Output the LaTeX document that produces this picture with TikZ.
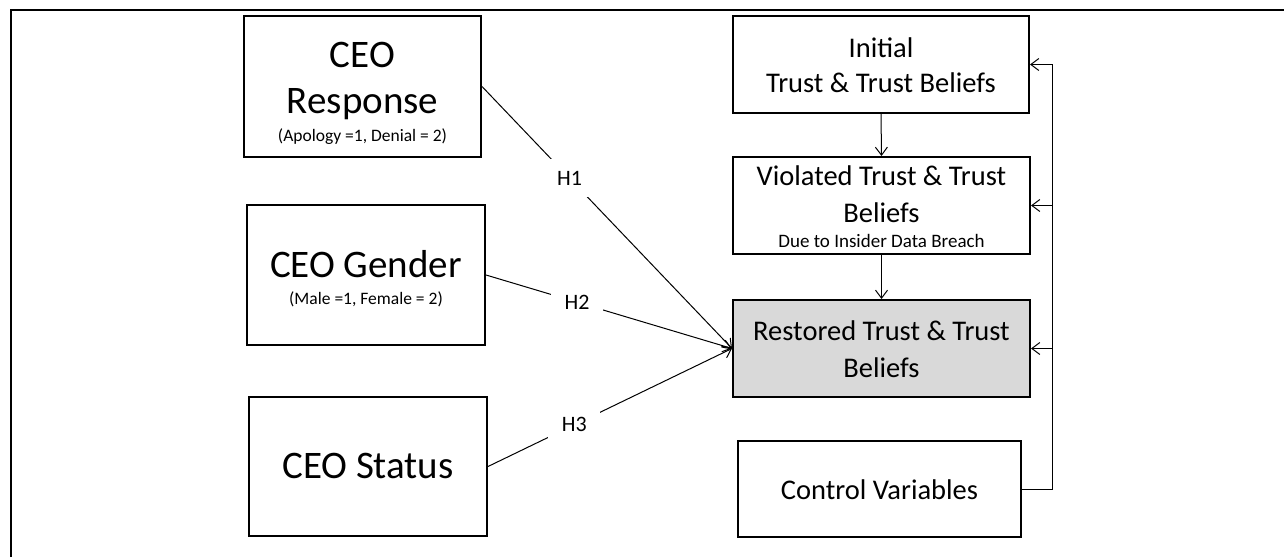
\documentclass[tikz,border=0pt]{standalone}
\usepackage{fontspec}
\setmainfont{Carlito}
\usetikzlibrary{arrows.meta}

\tikzset{
  box/.style={draw, line width=2pt, inner sep=0pt, fill=white},
  bigtxt/.style={font=\fontsize{39}{46}\selectfont, inner sep=0pt, anchor=base},
  midtxt/.style={font=\fontsize{28.5}{34}\selectfont, inner sep=0pt, anchor=base},
  smalltxt/.style={font=\fontsize{17.5}{21}\selectfont, inner sep=0pt, anchor=base},
  notetxt/.style={font=\fontsize{19}{23}\selectfont, inner sep=0pt, anchor=base},
  conn/.style={line width=1pt, -{Straight Barb[length=8pt,width=12pt,line width=1pt]}},
  hlab/.style={fill=white, inner sep=0pt, minimum width=52pt, minimum height=38pt,
               font=\fontsize{22}{26}\selectfont},
  frameline/.style={line width=2.5pt}
}

\begin{document}
\begin{tikzpicture}[x=1pt, y=-1pt]
  \useasboundingbox (0,0) rectangle (1284,557);

  % outer frame (top and left edges)
  \draw[frameline] (11,557) -- (11,10) -- (1284,10);

  % independent variables
  \node[box, minimum width=237pt, minimum height=141pt] (resp) at (362.5,86.5) {};
  \node[bigtxt] (respA) at (362.5,67) {CEO};
  \node[bigtxt] (respB) at (362.5,113) {Response};
  \node[smalltxt] (respC) at (362.5,141.5) {(Apology =1, Denial = 2)};

  \node[box, minimum width=238pt, minimum height=140pt] (gend) at (366,275) {};
  \node[bigtxt] (gendA) at (366,277.5) {CEO Gender};
  \node[smalltxt] (gendB) at (366,304) {(Male =1, Female = 2)};

  \node[box, minimum width=238pt, minimum height=139pt] (stat) at (368,466.5) {};
  \node[bigtxt] (statA) at (368,478) {CEO Status};

  % trust chain
  \node[box, minimum width=296pt, minimum height=97pt] (init) at (881,64.5) {};
  \node[midtxt] (initA) at (881,57) {Initial};
  \node[midtxt] (initB) at (881,92) {Trust \& Trust Beliefs};

  \node[box, minimum width=297pt, minimum height=97pt] (viol) at (881.5,205.5) {};
  \node[midtxt] (violA) at (881.5,185) {Violated Trust \& Trust};
  \node[midtxt] (violB) at (881.5,222) {Beliefs};
  \node[notetxt] (violC) at (881.5,247) {Due to Insider Data Breach};

  \node[box, fill=black!15, minimum width=297pt, minimum height=97pt] (rest) at (881.5,348.5) {};
  \node[midtxt] (restA) at (881.5,340) {Restored Trust \& Trust};
  \node[midtxt] (restB) at (881.5,377) {Beliefs};

  \node[box, minimum width=283pt, minimum height=96pt] (ctrl) at (879.5,489) {};
  \node[midtxt] (ctrlA) at (879.5,499) {Control Variables};

  % hypothesised paths
  \draw[conn] (resp.east) -- node[hlab, pos=0.35] (h1) {H1} (rest.west);
  \draw[conn] (gend.east) -- node[hlab, pos=0.37] (h2) {H2} (rest.west);
  \draw[conn] (stat.east) -- node[hlab, pos=0.354] (h3) {H3} (rest.west);

  % sequence of trust states
  \draw[conn] (init.south) -- (viol.north);
  \draw[conn] (viol.south) -- (rest.north);

  % control variables feed every trust state
  \coordinate (bus) at (1052,0);
  \draw[conn] (ctrl.east) -| (bus |- init.east) -- (init.east);
  \draw[conn] (bus |- viol.east) -- (viol.east);
  \draw[conn] (bus |- rest.east) -- (rest.east);
\end{tikzpicture}
\end{document}
